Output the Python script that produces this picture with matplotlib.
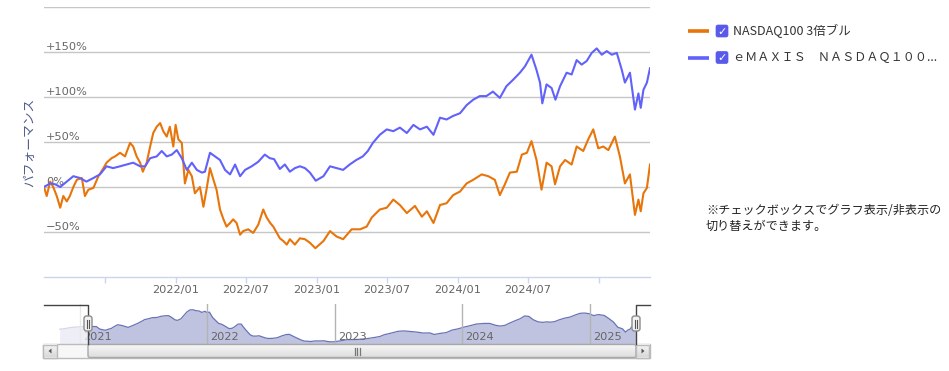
import matplotlib
matplotlib.use("Agg")
import matplotlib.pyplot as plt
import numpy as np
import pandas as pd
import matplotlib.dates as mdates
from matplotlib.patches import Rectangle, FancyBboxPatch, Polygon
from matplotlib.lines import Line2D
from matplotlib.colors import LinearSegmentedColormap

# ---------------- data ----------------
orange_name = "NASDAQ100 3倍ブル"
blue_name = "ｅＭＡＸＩＳ　ＮＡＳＤＡＱ１００..."

orange_dates = [
    "2020-11-04", "2020-11-18", "2020-12-02", "2020-12-16", "2020-12-30", "2021-01-12",
    "2021-01-24", "2021-01-31", "2021-02-09", "2021-02-17", "2021-02-26", "2021-03-07",
    "2021-03-15", "2021-03-24", "2021-04-01", "2021-04-10", "2021-04-19", "2021-05-02",
    "2021-05-10", "2021-05-19", "2021-06-01", "2021-06-14", "2021-06-27", "2021-07-05",
    "2021-07-18", "2021-07-27", "2021-08-09", "2021-08-22", "2021-09-04", "2021-09-12",
    "2021-09-21", "2021-09-30", "2021-10-07", "2021-10-17", "2021-10-26", "2021-11-03",
    "2021-11-12", "2021-11-21", "2021-11-29", "2021-12-08", "2021-12-16", "2021-12-25",
    "2021-12-31", "2022-01-07", "2022-01-16", "2022-01-24", "2022-02-02", "2022-02-11",
    "2022-02-19", "2022-03-04", "2022-03-13", "2022-03-21", "2022-03-30", "2022-04-08",
    "2022-04-16", "2022-04-25", "2022-05-04", "2022-05-12", "2022-05-21", "2022-05-29",
    "2022-06-07", "2022-06-16", "2022-06-24", "2022-07-07", "2022-07-20", "2022-08-02",
    "2022-08-15", "2022-08-24", "2022-09-02", "2022-09-10", "2022-09-19", "2022-09-27",
    "2022-10-06", "2022-10-15", "2022-10-23", "2022-11-05", "2022-11-18", "2022-12-01",
    "2022-12-14", "2022-12-28", "2023-01-18", "2023-02-04", "2023-02-21", "2023-03-10",
    "2023-04-01", "2023-04-23", "2023-05-10", "2023-05-23", "2023-06-13", "2023-07-01",
    "2023-07-18", "2023-08-04", "2023-08-22", "2023-09-12", "2023-09-30", "2023-10-13",
    "2023-10-30", "2023-11-16", "2023-12-03", "2023-12-20", "2024-01-07", "2024-01-24",
    "2024-02-10", "2024-03-03", "2024-03-20", "2024-04-06", "2024-04-19", "2024-05-02",
    "2024-05-15", "2024-06-02", "2024-06-15", "2024-06-28", "2024-07-10", "2024-07-23",
    "2024-08-05", "2024-08-18", "2024-08-31", "2024-09-09", "2024-09-22", "2024-10-05",
    "2024-10-22", "2024-11-04", "2024-11-21", "2024-12-04", "2024-12-17", "2024-12-30",
    "2025-01-12", "2025-01-25", "2025-02-11", "2025-02-24", "2025-03-09", "2025-03-22",
    "2025-04-04", "2025-04-13", "2025-04-19", "2025-04-26", "2025-05-05", "2025-05-13",
]
orange_vals = [
    -15, -9, -6, -3, -2, -3,
    0, -10, 6, 0, -10, -23,
    -10, -16, -10, 0, 8, 10,
    -10, -3, -1, 12, 21, 27,
    32, 34, 38, 34, 49, 45,
    34, 27, 17, 27, 45, 60,
    67, 71, 62, 56, 67, 45,
    69, 53, 49, 4, 19, 12,
    -7, 0, -22, -3, 21, 8,
    -3, -25, -36, -44, -40, -36,
    -40, -53, -49, -47, -51, -42,
    -25, -34, -40, -44, -51, -57,
    -60, -64, -58, -64, -57, -58,
    -62, -68, -60, -49, -55, -58,
    -47, -47, -44, -34, -25, -23,
    -14, -20, -29, -21, -33, -27,
    -40, -20, -18, -9, -5, 4,
    8, 14, 12, 8, -9, 3,
    16, 17, 36, 38, 51, 30,
    -3, 27, 23, 3, 23, 30,
    25, 45, 40, 53, 64, 43,
    45, 41, 56, 34, 4, 14,
    -31, -14, -27, -7, -1, 25,
]

blue_dates = [
    "2021-01-24", "2021-02-09", "2021-02-22", "2021-03-07", "2021-03-24", "2021-04-10",
    "2021-04-27", "2021-05-14", "2021-06-01", "2021-06-18", "2021-07-05", "2021-07-22",
    "2021-08-09", "2021-08-26", "2021-09-12", "2021-09-30", "2021-10-13", "2021-10-26",
    "2021-11-12", "2021-11-25", "2021-12-08", "2021-12-21", "2022-01-03", "2022-01-16",
    "2022-01-29", "2022-02-11", "2022-02-24", "2022-03-09", "2022-03-17", "2022-03-30",
    "2022-04-12", "2022-04-25", "2022-05-08", "2022-05-21", "2022-06-03", "2022-06-16",
    "2022-06-29", "2022-07-16", "2022-08-02", "2022-08-19", "2022-09-01", "2022-09-12",
    "2022-09-27", "2022-10-10", "2022-10-23", "2022-11-05", "2022-11-18", "2022-12-01",
    "2022-12-14", "2022-12-29", "2023-01-18", "2023-02-04", "2023-02-21", "2023-03-10",
    "2023-03-27", "2023-04-13", "2023-04-30", "2023-05-13", "2023-05-26", "2023-06-13",
    "2023-07-01", "2023-07-18", "2023-08-04", "2023-08-22", "2023-09-08", "2023-09-25",
    "2023-10-13", "2023-10-30", "2023-11-16", "2023-12-03", "2023-12-20", "2024-01-07",
    "2024-01-24", "2024-02-10", "2024-02-27", "2024-03-15", "2024-04-01", "2024-04-19",
    "2024-05-06", "2024-05-23", "2024-06-10", "2024-06-23", "2024-07-10", "2024-07-23",
    "2024-08-01", "2024-08-07", "2024-08-18", "2024-08-31", "2024-09-10", "2024-09-22",
    "2024-10-09", "2024-10-22", "2024-11-04", "2024-11-17", "2024-11-30", "2024-12-13",
    "2024-12-26", "2025-01-08", "2025-01-21", "2025-02-03", "2025-02-16", "2025-03-01",
    "2025-03-09", "2025-03-22", "2025-04-04", "2025-04-13", "2025-04-19", "2025-04-26",
    "2025-05-05", "2025-05-13",
]
blue_vals = [
    0, 4, 3, 0, 6, 12,
    10, 6, 10, 14, 23, 21,
    23, 25, 27, 23, 23, 32,
    34, 40, 34, 36, 41, 32,
    19, 27, 19, 16, 17, 38,
    34, 30, 19, 14, 25, 12,
    19, 23, 28, 36, 32, 31,
    20, 25, 17, 21, 23, 21,
    16, 7, 12, 23, 21, 19,
    25, 30, 34, 40, 49, 58,
    64, 62, 66, 60, 69, 64,
    67, 58, 77, 75, 79, 82,
    91, 97, 101, 101, 106, 99,
    112, 119, 127, 134, 147, 130,
    116, 93, 114, 110, 97, 112,
    127, 125, 141, 136, 140, 149,
    154, 147, 151, 147, 149, 130,
    116, 127, 86, 104, 88, 108,
    116, 132,
]

view_start = "2021-01-24"
view_end = "2025-05-13"

y_grid = [-50, 0, 50, 100, 150, 200]
y_label_vals = [150, 100, 50, 0, -50]
y_labels = ["+150%", "+100%", "+50%", "0%", "\u221250%"]

x_tick_dates = ["2021-07-01", "2022-01-01", "2022-07-01", "2023-01-01",
                "2023-07-01", "2024-01-01", "2024-07-01", "2025-01-01"]
x_tick_labels = ["", "2022/01", "2022/07", "2023/01", "2023/07", "2024/01", "2024/07", ""]

nav_years = ["2021", "2022", "2023", "2024", "2025"]

y_title = "パフォーマンス"
note_lines = ["※チェックボックスでグラフ表示/非表示の", "切り替えができます。"]

# ---------------- style ----------------
ORANGE = "#e8750a"
BLUE = "#6161fb"
GRID = "#c6c6c6"
AXIS = "#ccd6eb"
LABEL = "#666666"
CJK = ["Noto Sans CJK JP", "DejaVu Sans"]

W, H = 949, 371
fig = plt.figure(figsize=(W / 100, H / 100), dpi=100)
plt.rcParams['font.family'] = ['DejaVu Sans', 'Noto Sans CJK JP']

od = pd.to_datetime(orange_dates)
ov = np.array(orange_vals, dtype=float)
bd = pd.to_datetime(blue_dates)
bv = np.array(blue_vals, dtype=float)
t0 = pd.Timestamp(view_start)
t1 = pd.Timestamp(view_end)

# ---------------- main chart ----------------
ax = fig.add_axes([44 / W, 1 - 277 / H, 606 / W, 270 / H])
m = od >= t0
ax.plot(od[m], ov[m], color=ORANGE, lw=1.5, zorder=3, solid_joinstyle='round')
ax.plot(bd, bv, color=BLUE, lw=1.5, zorder=4, solid_joinstyle='round')
ax.set_xlim(t0, t1)
ax.set_ylim(-100, 200)
for v in y_grid:
    ax.axhline(v, color=GRID, lw=1, zorder=1)
ax.set_yticks([])
for s in ["left", "right", "top"]:
    ax.spines[s].set_visible(False)
ax.spines["bottom"].set_color(AXIS)
ax.spines["bottom"].set_linewidth(1)
ax.set_xticks(pd.to_datetime(x_tick_dates))
ax.set_xticklabels(x_tick_labels)
ax.tick_params(axis="x", length=4, width=1, color=AXIS, labelcolor=LABEL,
               labelsize=8.2, pad=2)
for v, lab in zip(y_label_vals, y_labels):
    ax.annotate(lab, xy=(0, v), xycoords=("axes fraction", "data"),
                xytext=(2, 2), textcoords="offset pixels", ha="left",
                va="baseline", fontsize=8.2, color=LABEL, zorder=2)
ax.patch.set_visible(False)

# ---------------- navigator ----------------
nav = fig.add_axes([44 / W, 1 - 344 / H, 606 / W, 40 / H])
h_left_px, h_right_px = 88, 636
d0 = mdates.date2num(t0)
d1 = mdates.date2num(t1)
ppd = (h_right_px - h_left_px) / (d1 - d0)
nav_lo = d0 - (h_left_px - 44) / ppd
nav_hi = d1 + (650 - h_right_px) / ppd
nav_vals = pd.Series(ov).rolling(3, center=True, min_periods=1).mean().values
nav.fill_between(od, nav_vals, -72, color="#bfc3e0", lw=0, zorder=2)
nav.plot(od, nav_vals, color="#6a73b6", lw=0.9, zorder=3)
nav.set_xlim(nav_lo, nav_hi)
nav.set_ylim(-72, 90)
for yr in nav_years:
    d = mdates.date2num(pd.Timestamp(f"{yr}-01-01"))
    nav.axvline(d, color="#b4b4b4", lw=1, zorder=4)
    nav.annotate(yr, xy=(d, -72), xytext=(3, 2), textcoords="offset pixels",
                 ha="left", va="bottom", fontsize=8.2, color=LABEL, zorder=5)
nav.add_patch(Rectangle((nav_lo, -72), d0 - nav_lo, 162, facecolor="white",
                        alpha=0.72, lw=0, zorder=6))
nav.add_patch(Rectangle((d1, -72), nav_hi - d1, 162, facecolor="white",
                        alpha=0.72, lw=0, zorder=6))
nav.axis("off")

# ---------------- overlay (pixel coords) ----------------
ovl = fig.add_axes([0, 0, 1, 1])
ovl.set_xlim(0, W)
ovl.set_ylim(H, 0)
ovl.axis("off")
ovl.patch.set_visible(False)

def grad(x0, x1, y0, y1, c_top="#f6f6f6", c_bot="#d9d9d9"):
    cm = LinearSegmentedColormap.from_list("g", [c_top, c_bot])
    g = np.linspace(0, 1, 32).reshape(-1, 1)
    ovl.imshow(g, cmap=cm, extent=(x0, x1, y1, y0), aspect="auto",
               origin="upper", zorder=3, interpolation="bilinear")

# scrollbar
ovl.add_patch(Rectangle((43, 344), 607, 14, facecolor="#f7f7f7",
                        edgecolor="#bbbbbb", lw=1, zorder=2))
grad(43.5, 57, 344.5, 357.5)
grad(88, 636, 344.5, 357.5, "#f8f8f8", "#dedede")
grad(636, 649.5, 344.5, 357.5)
ovl.set_xlim(0, W)
ovl.set_ylim(H, 0)
ovl.add_patch(Rectangle((43.5, 344.5), 13.5, 13, facecolor="none",
                        edgecolor="#bbbbbb", lw=1, zorder=4))
ovl.add_patch(FancyBboxPatch((88, 344.5), 548, 13, boxstyle="round,pad=0,rounding_size=2",
                             facecolor="none", edgecolor="#a8a8a8", lw=1, zorder=4))
ovl.add_patch(Rectangle((636, 344.5), 13.5, 13, facecolor="none",
                        edgecolor="#bbbbbb", lw=1, zorder=4))
ovl.add_patch(Polygon([[48.5, 351], [51.5, 348.5], [51.5, 353.5]], closed=True,
                      facecolor="#555555", lw=0, zorder=5))
ovl.add_patch(Polygon([[644.5, 351], [641.5, 348.5], [641.5, 353.5]], closed=True,
                      facecolor="#555555", lw=0, zorder=5))
for gx in [355, 357.5, 360]:
    ovl.add_line(Line2D([gx, gx], [348, 354.5], color="#777777", lw=0.9, zorder=5))

# navigator outline
ovl.add_line(Line2D([44, 88, 88], [304.5, 304.5, 344], color="#444444", lw=1, zorder=6))
ovl.add_line(Line2D([636, 636, 650], [344, 304.5, 304.5], color="#444444", lw=1, zorder=6))

# handles
for hx in [88, 636]:
    ovl.add_patch(FancyBboxPatch((hx - 4, 316), 8, 15, boxstyle="round,pad=0,rounding_size=2.5",
                                 facecolor="#f2f2f2", edgecolor="#8c8c8c", lw=1, zorder=7))
    for dx in [-1.2, 1.2]:
        ovl.add_line(Line2D([hx + dx, hx + dx], [319.5, 327.5], color="#555555",
                            lw=0.8, zorder=8))

# y-axis title
ovl.text(30, 142, y_title, rotation=90, ha="center", va="center", fontsize=9.2,
         color="#4f5d8e", family=CJK)

# legend
for (yy, col, name, fs) in [(31, ORANGE, orange_name, 9), (57.5, BLUE, blue_name, 8.7)]:
    ovl.add_line(Line2D([688, 709], [yy, yy], color=col, lw=2.6, zorder=5,
                        solid_capstyle="butt"))
    ovl.add_patch(FancyBboxPatch((716, yy - 6), 12, 12, boxstyle="round,pad=0,rounding_size=2",
                                 facecolor="#5a5aea", edgecolor="#5a5aea", lw=0.5, zorder=5))
    ovl.text(722, yy + 0.5, "\u2713", ha="center", va="center", color="white",
             fontsize=8, fontweight="bold", zorder=6, family=["DejaVu Sans"])
    ovl.text(733, yy, name, ha="left", va="center", fontsize=fs, color="#333333",
             family=CJK, zorder=6)

# note
ovl.text(706, 210, note_lines[0], ha="left", va="center", fontsize=8.7, color="#222222",
         family=CJK)
ovl.text(706, 226.5, note_lines[1], ha="left", va="center", fontsize=8.7, color="#222222",
         family=CJK)

fig.savefig("out.png", dpi=100)
